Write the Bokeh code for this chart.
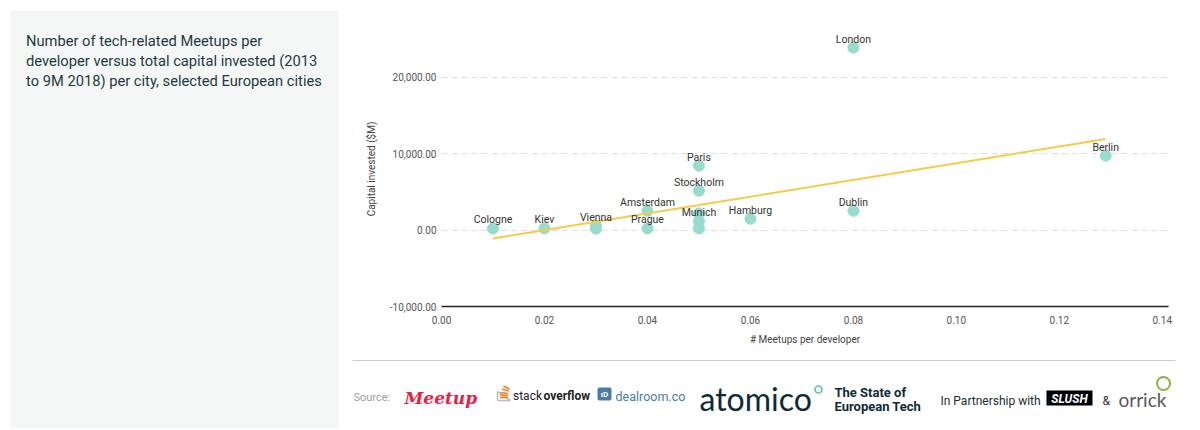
from bokeh.plotting import figure
from bokeh.models import ColumnDataSource, Range1d, FixedTicker, NumeralTickFormatter
from bokeh.layouts import row, column
from bokeh.core.properties import value
from bokeh.embed import file_html
from bokeh.resources import INLINE

# ---------------- data ----------------
cities = ["Cologne", "Kiev", "Vienna", "Amsterdam", "Prague", "Munich",
          "Paris", "Stockholm", "Hamburg", "Dublin", "London", "Berlin"]
meetups = [0.01, 0.02, 0.03, 0.04, 0.04, 0.05, 0.05, 0.05, 0.06, 0.08, 0.08, 0.129]
capital = [220, 220, 590, 2530, 220, 1180, 8430, 5150, 1480, 2530, 23900, 9740]

# unlabeled (overlapping) cities
other_meetups = [0.03, 0.05, 0.05]
other_capital = [200, 2190, 220]

# trend line
trend_meetups = [0.01, 0.129]
trend_capital = [-1090, 11930]

x_ticks = [0.0, 0.02, 0.04, 0.06, 0.08, 0.10, 0.12, 0.14]
y_ticks = [-10000, 0, 10000, 20000]

title_lines = ["Number of tech-related Meetups per",
               "developer versus total capital invested (2013",
               "to 9M 2018) per city, selected European cities"]

FONT = "Roboto"
POINT = "#97dccd"
TREND = "#f6cb45"
DARK = "#1c3a40"

H_MAIN = 353
H_FOOT = 75

# ---------------- left panel ----------------
left = figure(width=340, height=H_MAIN + H_FOOT, x_range=Range1d(0, 328),
              y_range=Range1d(H_MAIN + H_FOOT - 10, 0),
              toolbar_location=None, output_backend="svg",
              x_axis_type=None, y_axis_type=None,
              min_border_left=10, min_border_right=2, min_border_top=10, min_border_bottom=0)
left.grid.visible = False
left.outline_line_color = None
left.background_fill_color = "#f5f7f6"
left.border_fill_color = "white"
left.text(x=[15.5] * 3, y=[30.5, 50.5, 70.5], text=title_lines,
          text_font=value(FONT), text_font_size="14.7px", text_color=DARK,
          text_baseline="middle", text_align="left")

# ---------------- main chart ----------------
p = figure(width=852, height=H_MAIN, toolbar_location=None, output_backend="svg",
           x_range=Range1d(0, 0.1412), y_range=Range1d(-10000, 26000),
           min_border_left=101, min_border_right=24, min_border_top=31, min_border_bottom=47)
p.outline_line_color = None
p.background_fill_color = "white"
p.border_fill_color = "white"

p.xgrid.visible = False
p.ygrid.ticker = FixedTicker(ticks=y_ticks)
p.ygrid.grid_line_color = "#dedede"
p.ygrid.grid_line_dash = "6 4"
p.ygrid.grid_line_width = 1

p.xaxis.ticker = FixedTicker(ticks=x_ticks)
p.xaxis.formatter = NumeralTickFormatter(format="0.00")
p.xaxis.axis_line_color = "#222222"
p.xaxis.axis_line_width = 1.5
p.xaxis.major_tick_line_color = None
p.xaxis.minor_tick_line_color = None
p.xaxis.major_tick_in = 0
p.xaxis.major_tick_out = 0
p.xaxis.major_label_standoff = 9
p.xaxis.axis_label = "# Meetups per developer"
p.xaxis.axis_label_standoff = 7

p.yaxis.ticker = FixedTicker(ticks=y_ticks)
p.yaxis.formatter = NumeralTickFormatter(format="0,0.00")
p.yaxis.axis_line_color = None
p.yaxis.major_tick_line_color = None
p.yaxis.minor_tick_line_color = None
p.yaxis.major_tick_in = 0
p.yaxis.major_tick_out = 0
p.yaxis.major_label_standoff = 5
p.yaxis.axis_label = "Capital invested ($M)"
p.yaxis.axis_label_standoff = 10

for ax in (p.xaxis, p.yaxis):
    ax.major_label_text_font = FONT
    ax.major_label_text_font_size = "10px"
    ax.major_label_text_color = "#555555"
    ax.axis_label_text_font = FONT
    ax.axis_label_text_font_size = "10px"
    ax.axis_label_text_font_style = "normal"
    ax.axis_label_text_color = "#444444"

src = ColumnDataSource(dict(x=meetups, y=capital, name=cities))
other = ColumnDataSource(dict(x=other_meetups, y=other_capital))

p.scatter(x="x", y="y", source=other, size=11, fill_color=POINT, line_color=POINT)
p.scatter(x="x", y="y", source=src, size=11, fill_color=POINT, line_color=POINT)
p.line(x=trend_meetups, y=trend_capital, line_color=TREND, line_width=2)
p.text(x="x", y="y", text="name", source=src, text_font=value(FONT),
       text_font_size="10.5px", text_color="#333333", text_align="center",
       text_baseline="middle", y_offset=-8.5)

# ---------------- footer (sources / logos) ----------------
# the column aligns this frame with the chart frame (101..828 px), so the
# x range is set to pixel units and the glyphs are drawn at overlay level.
f = figure(width=852, height=H_FOOT, x_range=Range1d(101, 828), y_range=Range1d(H_FOOT, 0),
           toolbar_location=None, output_backend="svg",
           x_axis_type=None, y_axis_type=None,
           min_border_left=101, min_border_right=24, min_border_top=0, min_border_bottom=0)
f.grid.visible = False
f.outline_line_color = None
f.border_fill_color = "white"
f.background_fill_color = "white"

OV = dict(level="overlay")

f.segment(x0=[12], y0=[7], x1=[835], y1=[7], line_color="#cccccc", line_width=1, **OV)

f.text(x=[13], y=[44], text=["Source:"], text_font=value(FONT), text_font_size="11px",
       text_color="#a0a0a0", text_baseline="middle", **OV)
f.text(x=[64], y=[44], text=["Meetup"], text_font=value("DejaVu Serif"), text_font_size="17px",
       text_font_style="bold italic", text_color="#ed1c40", text_baseline="middle", **OV)

# stackoverflow icon
f.segment(x0=[157, 157, 157], y0=[38, 47, 38], x1=[157, 170, 170], y1=[47, 47, 47],
          line_color="#bcbbbb", line_width=1.5, **OV)
f.segment(x0=[159.5, 159.5, 160, 161.5, 163], y0=[44, 41.5, 39, 35.5, 32.5],
          x1=[167.5, 167.5, 167.5, 168.5, 169], y1=[44, 41.8, 40, 37.5, 35.5],
          line_color="#f48024", line_width=1.6, **OV)
f.text(x=[172.5], y=[42], text=["stack"], text_font=value(FONT), text_font_size="12px",
       text_color="#222222", text_baseline="middle", **OV)
f.text(x=[203], y=[42], text=["overflow"], text_font=value(FONT), text_font_size="12px",
       text_font_style="bold", text_color="#222222", text_baseline="middle", **OV)

# dealroom
f.quad(left=[257], right=[271], top=[34], bottom=[47], fill_color="#4d7aa6", line_color=None,
       border_radius=2, **OV)
f.text(x=[264], y=[41], text=["ıD"], text_font=value(FONT), text_font_size="8px",
       text_color="white", text_align="center", text_baseline="middle", text_font_style="bold", **OV)
f.text(x=[275], y=[43], text=["dealroom.co"], text_font=value(FONT), text_font_size="12.5px",
       text_color="#4d7aa6", text_baseline="middle", **OV)

# atomico
f.text(x=[359], y=[45], text=["atomico"], text_font=value("Lato"), text_font_size="32px",
       text_color="#0f2b36", text_baseline="middle", **OV)
f.scatter(x=[478], y=[36], size=7, fill_color=None, line_color="#5cc3ad", line_width=1.6, **OV)

f.text(x=[494, 494], y=[39, 53], text=["The State of", "European Tech"], text_font=value(FONT),
       text_font_size="13px", text_font_style="bold", text_color="#0f2b36",
       text_baseline="middle", **OV)

f.text(x=[600], y=[47], text=["In Partnership with"], text_font=value(FONT),
       text_font_size="12px", text_color="#1a2b33", text_baseline="middle", **OV)

f.quad(left=[706], right=[752], top=[37], bottom=[52], fill_color="black", line_color=None, **OV)
f.text(x=[729], y=[45], text=["SLUSH"], text_font=value(FONT), text_font_size="12px",
       text_font_style="bold italic", text_color="white", text_align="center",
       text_baseline="middle", **OV)

f.text(x=[762], y=[47], text=["&"], text_font=value(FONT), text_font_size="12px",
       text_color="#333333", text_baseline="middle", **OV)
f.text(x=[778], y=[46], text=["orrick"], text_font=value("Lato"), text_font_size="19px",
       text_color="#58595b", text_baseline="middle", **OV)
f.scatter(x=[823], y=[30], size=13, fill_color=None, line_color="#8db33a", line_width=2, **OV)

layout = row(left, column(p, f))

open("out.html", "w").write(file_html(layout, INLINE))
